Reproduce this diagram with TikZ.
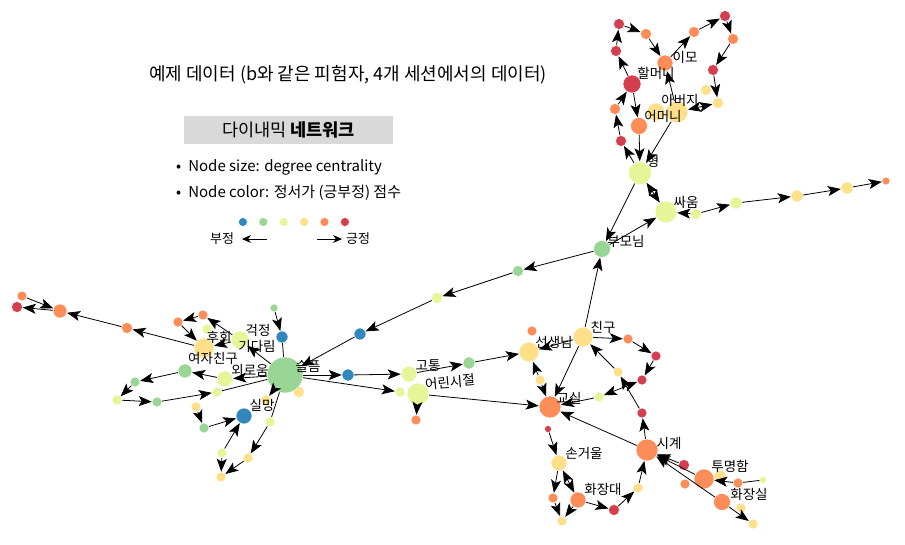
\documentclass[tikz,border=0pt]{standalone}
\usepackage{fontspec}
\setmainfont{Noto Sans CJK KR}
\usetikzlibrary{arrows.meta,positioning}
\definecolor{sblue}{RGB}{50,136,189}
\definecolor{sgreen}{RGB}{153,213,148}
\definecolor{slime}{RGB}{230,245,152}
\definecolor{syellow}{RGB}{254,224,139}
\definecolor{sorange}{RGB}{252,141,89}
\definecolor{sred}{RGB}{213,62,79}
\definecolor{boxgray}{RGB}{217,217,217}

\begin{document}
\begin{tikzpicture}[
    x=1pt, y=-1pt,
    vtx/.style 2 args={circle, inner sep=0pt, draw=white, line width=0.5pt, fill=#1, minimum size=#2pt},
    lbl/.style={font=\fontsize{13.5}{13.5}\selectfont, inner sep=0pt},
    txt/.style={font=\fontsize{15}{15}\selectfont, inner sep=0pt, anchor=west},
    arrow/.style={-{Stealth[length=13pt, width=10pt, inset=3pt]}, line width=0.8pt},
    both/.style={{Stealth[length=13pt, width=10pt, inset=3pt]}-{Stealth[length=13pt, width=10pt, inset=3pt]}, line width=0.8pt},
    plain/.style={line width=0.8pt}
]
\useasboundingbox (0,0) rectangle (905,545);

% Title and legend
\node[font=\fontsize{18}{18}\selectfont, inner sep=0pt] (title) at (348,75) {예제 데이터 (b와 같은 피험자, 4개 세션에서의 데이터)};
\node[fill=boxgray, minimum width=209pt, minimum height=28pt, font=\fontsize{17.5}{17.5}\selectfont] (netbox) at (288.5,130) {다이내믹 \textbf{네트워크}};
\node[txt] (sizeinfo) at (176,167) {•\hspace{7pt}Node size: degree centrality};
\node[txt] (colorinfo) at (176,193) {•\hspace{7pt}Node color: 정서가 (긍부정) 점수};
\foreach \c [count=\i] in {sblue,sgreen,slime,syellow,sorange,sred}
    \node[vtx={\c}{9}] (key\i) at (222.5+20.4*\i,222) {};
\node[font=\fontsize{13}{13}\selectfont, inner sep=0pt] (neg) at (222,239) {부정};
\node[font=\fontsize{13}{13}\selectfont, inner sep=0pt] (pos) at (358,239) {긍정};
\coordinate (negstart) at (267,239);
\coordinate (negend) at (242,239);
\coordinate (posstart) at (317,239);
\coordinate (posend) at (342,239);
\draw[-{Stealth[length=9pt, width=8pt]}, line width=0.9pt] (negstart) -- (negend);
\draw[-{Stealth[length=9pt, width=8pt]}, line width=0.9pt] (posstart) -- (posend);

% Top cluster (family)
\node[vtx={sred}{11}] (t1) at (619,24) {};
\node[vtx={sorange}{11}] (t2) at (646,34) {};
\node[vtx={sorange}{16}] (imo) at (665,63) {};
\node[vtx={sorange}{11}] (t3) at (694,32) {};
\node[vtx={sred}{11}] (t4) at (725,16) {};
\node[vtx={sorange}{11}] (t5) at (733,39) {};
\node[vtx={sred}{11}] (t6) at (713,70) {};
\node[vtx={sred}{11}] (t7) at (616,51) {};
\node[vtx={sred}{18}] (grandma) at (632,84) {};
\node[vtx={sorange}{11}] (t8) at (615,109) {};
\node[vtx={sred}{11}] (t9) at (621,141) {};
\node[vtx={syellow}{11}] (t10) at (706,90) {};
\node[vtx={syellow}{11}] (t11) at (718,103) {};
\node[vtx={syellow}{18}] (t12) at (656,112) {};
\node[vtx={syellow}{22}] (father) at (677,112) {};
\node[vtx={sorange}{17}] (mother) at (639,126) {};
\node[vtx={slime}{23}] (brother) at (640,173) {};
\node[vtx={slime}{22}] (fight) at (666,212) {};
\node[vtx={slime}{11}] (t13) at (696,214) {};
\node[vtx={slime}{12}] (t14) at (736,203) {};
\node[vtx={syellow}{12}] (t15) at (797,196) {};
\node[vtx={syellow}{12}] (t16) at (847,188) {};
\node[vtx={sorange}{8}] (t17) at (886,181) {};
\node[vtx={sgreen}{17}] (parents) at (602,249) {};

% Path to the left
\node[vtx={sgreen}{11}] (m1) at (518,271) {};
\node[vtx={slime}{11}] (m2) at (437,298) {};
\node[vtx={sblue}{12}] (m3) at (360,334) {};

% Left cluster
\node[vtx={sgreen}{8}] (l1) at (274,308) {};
\node[vtx={sblue}{12}] (l2) at (282,337) {};
\node[vtx={syellow}{11}] (l3) at (299,392) {};
\node[vtx={sblue}{12}] (l4) at (348,375) {};
\node[vtx={sorange}{10}] (l5) at (22,296) {};
\node[vtx={sred}{11}] (l6) at (17,307) {};
\node[vtx={sorange}{14}] (l7) at (60,311) {};
\node[vtx={sorange}{11}] (l8) at (127,328) {};
\node[vtx={sorange}{10}] (l9) at (178,322) {};
\node[vtx={sorange}{10}] (l10) at (203,315) {};
\node[vtx={slime}{10}] (l11) at (207,329) {};
\node[vtx={slime}{18}] (waiting) at (240,340) {};
\node[vtx={syellow}{20}] (regret) at (204,348) {};
\node[vtx={sgreen}{14}] (girlfriend) at (185,371) {};
\node[vtx={sgreen}{10}] (l12) at (135,382) {};
\node[vtx={slime}{10}] (l13) at (117,400) {};
\node[vtx={sgreen}{10}] (l14) at (157,402) {};
\node[vtx={slime}{10}] (l15) at (217,392) {};
\node[vtx={slime}{16}] (lonely) at (225,379) {};
\node[vtx={syellow}{10}] (l16) at (196,407) {};
\node[vtx={sgreen}{10}] (l17) at (204,428) {};
\node[vtx={syellow}{10}] (l18) at (266,400) {};
\node[vtx={sblue}{16}] (letdown) at (244,416) {};
\node[vtx={slime}{10}] (l19) at (270,422) {};
\node[vtx={slime}{10}] (l20) at (222,453) {};
\node[vtx={syellow}{10}] (l21) at (248,458) {};
\node[vtx={syellow}{10}] (l22) at (221,477) {};
\node[vtx={sgreen}{36}] (sadness) at (285,375) {};

% Middle
\node[vtx={slime}{16}] (pain) at (409,374) {};
\node[vtx={slime}{10}] (c1) at (400,392) {};
\node[vtx={slime}{22}] (childhood) at (418,394) {};
\node[vtx={sorange}{10}] (c2) at (416,420) {};
\node[vtx={sgreen}{12}] (c3) at (469,363) {};

% Right cluster (school)
\node[vtx={sorange}{10}] (r1) at (532,331) {};
\node[vtx={syellow}{20}] (teacher) at (529,352) {};
\node[vtx={syellow}{20}] (friend) at (583,337) {};
\node[vtx={sorange}{10}] (r2) at (628,339) {};
\node[vtx={sred}{10}] (r3) at (656,356) {};
\node[vtx={sred}{10}] (r4) at (642,380) {};
\node[vtx={syellow}{10}] (r5) at (618,372) {};
\node[vtx={slime}{10}] (r6) at (599,397) {};
\node[vtx={syellow}{10}] (r7) at (540,380) {};
\node[vtx={sorange}{22}] (classroom) at (550,407) {};
\node[vtx={sred}{7}] (r8) at (548,429) {};
\node[vtx={sred}{10}] (r9) at (642,413) {};
\node[vtx={sorange}{22}] (clock) at (647,450) {};
\node[vtx={syellow}{16}] (mirror) at (559,463) {};
\node[vtx={sorange}{10}] (r10) at (553,498) {};
\node[vtx={syellow}{10}] (r11) at (562,521) {};
\node[vtx={sorange}{16}] (dresser) at (578,500) {};
\node[vtx={sred}{11}] (r12) at (614,510) {};
\node[vtx={syellow}{10}] (r13) at (638,488) {};
\node[vtx={sred}{11}] (r14) at (684,465) {};
\node[vtx={sorange}{10}] (r15) at (685,484) {};
\node[vtx={syellow}{12}] (r16) at (720,476) {};
\node[vtx={sorange}{20}] (clear) at (704,479) {};
\node[vtx={sorange}{10}] (r17) at (738,483) {};
\node[vtx={slime}{7}] (r18) at (763,480) {};
\node[vtx={sorange}{17}] (restroom) at (722,502) {};
\node[vtx={syellow}{10}] (r19) at (741,508) {};
\node[vtx={syellow}{10}] (r20) at (753,524) {};

% Arrows - top cluster
\draw[arrow] (t1) -- (t2);
\draw[arrow] (t2) -- (imo);
\draw[arrow] (imo) -- (t3);
\draw[arrow] (t3) -- (t4);
\draw[arrow] (t4) -- (t5);
\draw[arrow] (t5) -- (t6);
\draw[arrow] (t6) -- (t11);
\draw[arrow] (grandma) -- (t7);
\draw[arrow] (t7) -- (t1);
\draw[arrow] (t8) -- (grandma);
\draw[arrow] (t9) -- (t8);
\draw[arrow] (brother) -- (t9);
\draw[arrow] (grandma) -- (mother);
\draw[arrow] (mother) -- (brother);
\draw[arrow] (father) -- (brother);
\draw[arrow] (father) -- (imo);
\draw[both] (father) -- (t11);
\draw[arrow] (brother) -- (parents);
\draw[arrow] (parents) -- (fight);
\draw[both] (brother) -- (fight);
\draw[arrow] (t13) -- (fight);
\draw[arrow] (t13) -- (t14);
\draw[arrow] (t14) -- (t15);
\draw[arrow] (t15) -- (t16);
\draw[arrow] (t16) -- (t17);

% Arrows - path to the left
\draw[arrow] (parents) -- (m1);
\draw[arrow] (m1) -- (m2);
\draw[arrow] (m2) -- (m3);
\draw[arrow] (m3) -- (sadness);

% Arrows - left cluster
\draw[arrow] (l1) -- (l2);
\draw[plain] (l2) -- (sadness);
\draw[arrow] (sadness) -- (l4);
\draw[arrow] (sadness) -- (lonely);
\draw[arrow] (sadness) -- (waiting);
\draw[plain] (sadness) -- (l15);
\draw[arrow] (lonely) -- (girlfriend);
\draw[arrow] (waiting) -- (regret);
\draw[arrow] (waiting) -- (l10);
\draw[arrow] (regret) -- (l8);
\draw[arrow] (l8) -- (l7);
\draw[arrow] (l7) -- (l6);
\draw[arrow] (l5) -- (l7);
\draw[arrow] (l10) -- (l9);
\draw[arrow] (l9) -- (regret);
\draw[arrow] (girlfriend) -- (l12);
\draw[arrow] (l12) -- (l13);
\draw[arrow] (l13) -- (l14);
\draw[arrow] (l14) -- (l15);
\draw[arrow] (l16) -- (l17);
\draw[arrow] (l17) -- (letdown);
\draw[arrow] (l20) -- (letdown);
\draw[arrow] (l20) -- (l22);
\draw[arrow] (l21) -- (l22);
\draw[arrow] (l19) -- (l21);
\draw[plain] (sadness) -- (l19);
\draw[arrow] (sadness) -- (l18);

% Arrows - middle
\draw[arrow] (l4) -- (pain);
\draw[arrow] (sadness) -- (c1);
\draw[arrow] (pain) -- (c3);
\draw[arrow] (c3) -- (teacher);
\draw[arrow] (childhood) -- (c2);
\draw[arrow] (childhood) -- (classroom);

% Arrows - right cluster
\draw[arrow] (friend) -- (teacher);
\draw[arrow] (friend) -- (parents);
\draw[arrow] (friend) -- (r2);
\draw[arrow] (r2) -- (r3);
\draw[arrow] (r3) -- (r4);
\draw[arrow] (r5) -- (friend);
\draw[arrow] (r9) -- (r5);
\draw[both] (r6) -- (r4);
\draw[arrow] (friend) -- (classroom);
\draw[arrow] (r7) -- (teacher);
\draw[arrow] (r7) -- (classroom);
\draw[arrow] (r6) -- (classroom);
\draw[arrow] (clock) -- (classroom);
\draw[arrow] (clock) -- (r9);
\draw[arrow] (r8) -- (mirror);
\draw[arrow] (mirror) -- (r10);
\draw[both] (mirror) -- (dresser);
\draw[arrow] (r10) -- (r11);
\draw[arrow] (dresser) -- (r11);
\draw[arrow] (dresser) -- (r12);
\draw[arrow] (r12) -- (r13);
\draw[arrow] (r13) -- (clock);
\draw[arrow] (r14) -- (clock);
\draw[arrow] (clear) -- (clock);
\draw[arrow] (restroom) -- (clock);
\draw[arrow] (r17) -- (clear);
\draw[plain] (r18) -- (r17);
\draw[arrow] (restroom) -- (r20);

% Labels
\node[lbl] (limo) at (685,57) {이모};
\node[lbl] (lgrandma) at (656,73) {할머니};
\node[lbl] (lfather) at (680,100) {아버지};
\node[lbl] (lmother) at (663,116) {어머니};
\node[lbl] (lbrother) at (653,161) {형};
\node[lbl] (lfight) at (686,202) {싸움};
\node[lbl] (lparents) at (626,241) {부모님};
\node[lbl] (lregret) at (219,337) {후회};
\node[lbl] (lworry) at (258,330) {걱정};
\node[lbl] (lwaiting) at (257,346) {기다림};
\node[lbl] (lgirlfriend) at (213,358) {여자친구};
\node[lbl] (llonely) at (250,370) {외로움};
\node[lbl] (lsadness) at (308,366) {슬픔};
\node[lbl] (lletdown) at (262,405) {실망};
\node[lbl] (lpain) at (428,366) {고통};
\node[lbl, rotate=5] (lchildhood) at (450,382) {어린시절};
\node[lbl] (lteacher) at (554,342) {선생님};
\node[lbl] (lfriend) at (603,327) {친구};
\node[lbl] (lclassroom) at (569,398) {교실};
\node[lbl] (lclock) at (669,443) {시계};
\node[lbl] (lmirror) at (584,453) {손거울};
\node[lbl] (ldresser) at (603,489) {화장대};
\node[lbl] (lclear) at (730,466) {투명함};
\node[lbl] (lrestroom) at (749,494) {화장실};

\end{tikzpicture}
\end{document}
